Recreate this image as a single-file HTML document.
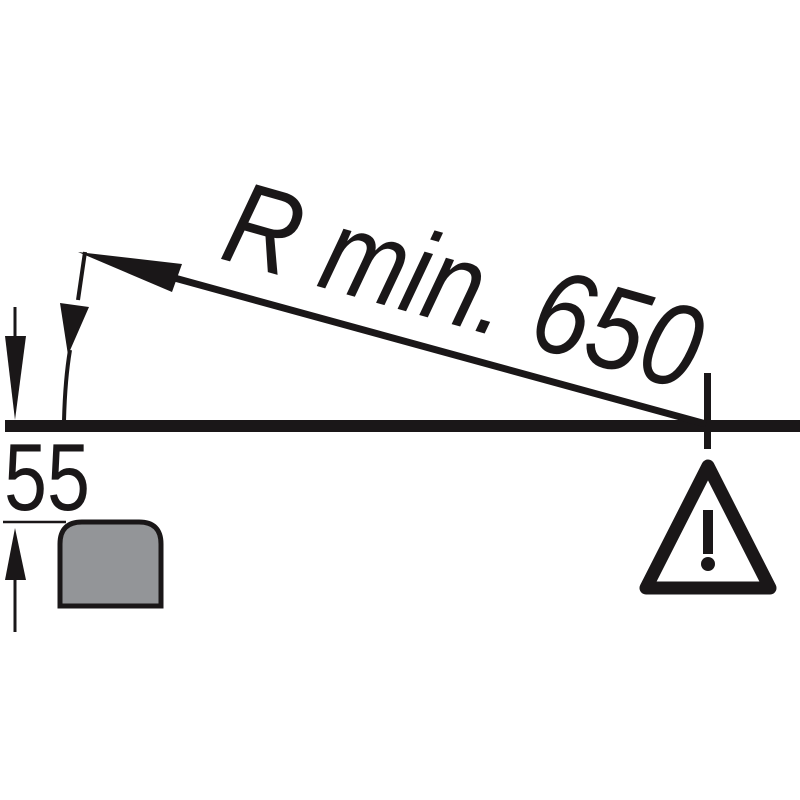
<!DOCTYPE html>
<html><head><style>html,body{margin:0;padding:0;background:#fff}svg{display:block}</style></head>
<body>
<svg width="800" height="800" viewBox="0 0 800 800" xmlns="http://www.w3.org/2000/svg">
<rect width="800" height="800" fill="#fff"/>
<!-- main horizontal line -->
<rect x="5" y="420" width="795" height="12" fill="#1a1718"/>
<!-- tick -->
<rect x="704" y="373" width="7" height="76" fill="#1a1718"/>
<!-- radius line -->
<line x1="706" y1="424" x2="160" y2="274" stroke="#1a1718" stroke-width="7"/>
<polygon points="78,252 182,264 172,292" fill="#1a1718"/>
<!-- slanted leader -->
<line x1="85" y1="252" x2="78" y2="300" stroke="#1a1718" stroke-width="4"/>
<path d="M70,350 Q65,380 64,421" stroke="#1a1718" stroke-width="4" fill="none"/>
<polygon points="60,303 89,307 68,355" fill="#1a1718"/>
<!-- left vertical arrows -->
<line x1="15" y1="307" x2="15" y2="340" stroke="#1a1718" stroke-width="3"/>
<polygon points="5,336 26,336 15,420" fill="#1a1718"/>
<line x1="15" y1="575" x2="15" y2="632" stroke="#1a1718" stroke-width="3"/>
<polygon points="5,580 26,580 15,528" fill="#1a1718"/>
<line x1="3" y1="522" x2="66" y2="522" stroke="#1a1718" stroke-width="2.5"/>
<!-- 55 -->
<text x="4" y="510" font-family="Liberation Sans, sans-serif" font-size="96" textLength="86" lengthAdjust="spacingAndGlyphs" fill="#1a1718">55</text>
<!-- gray box -->
<path d="M60,606 V544 Q60,522 82,522 H139 Q161,522 161,544 V606 Z" fill="#939598" stroke="#1a1718" stroke-width="5"/>
<!-- warning triangle -->
<polygon points="708,466 646,588 770,588" fill="none" stroke="#1a1718" stroke-width="13" stroke-linejoin="round"/>
<rect x="703" y="510" width="10" height="44" fill="#1a1718"/>
<circle cx="708" cy="564" r="7" fill="#1a1718"/>
<!-- label -->
<text transform="translate(218,258) rotate(15.8)" font-family="Liberation Sans, sans-serif" font-style="italic" font-size="118" textLength="488" lengthAdjust="spacingAndGlyphs" fill="#1a1718">R min. 650</text>
</svg>
</body></html>
